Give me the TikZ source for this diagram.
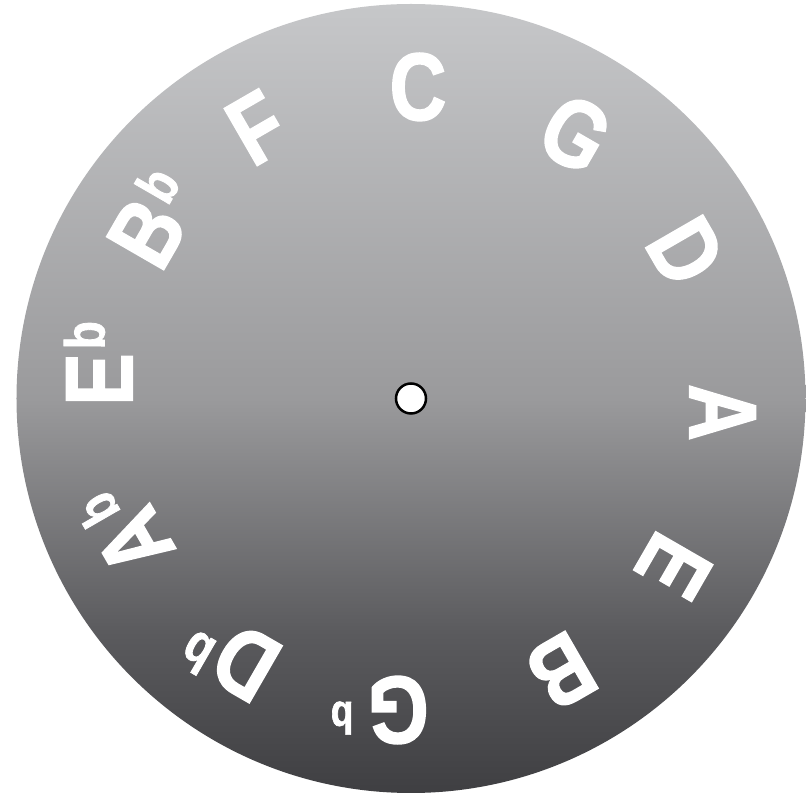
\documentclass[tikz,border=0pt]{standalone}
\usepackage{fontspec}
\newfontfamily\notefont[FakeStretch=0.82,FakeBold=1.5]{Liberation Sans Bold}
\definecolor{gA}{HTML}{3F3F42}
\definecolor{gB}{HTML}{5A5A5D}
\definecolor{gC}{HTML}{9A9A9C}
\definecolor{gD}{HTML}{C6C7C9}
\pgfdeclareverticalshading{diskshade}{100bp}{color(0bp)=(gA); color(25bp)=(gA); color(35bp)=(gB); color(50bp)=(gC); color(75bp)=(gD); color(100bp)=(gD)}
\newcommand\flt[3]{\rlap{\kern#3pt\raisebox{#2pt}{\fontsize{#1}{#1}\selectfont b}}}
\newcommand\notelabel[5]{%
  \begin{scope}[rotate=-30*#1]
    \node[note, anchor=base] (#2) at (#5, 278.5) {#3#4};
  \end{scope}}
\begin{document}
\begin{tikzpicture}[x=1pt,y=1pt,
  note/.style={font=\notefont\fontsize{96}{96}\selectfont, text=white, inner sep=0pt, transform shape}]
\useasboundingbox (-411,-398.5) rectangle (396,398.5);
\shade[shading=diskshade] (0,0) circle (394.5);
\node[circle, draw=black, fill=white, line width=2.5pt, minimum size=30pt, inner sep=0pt] (hub) at (0,0) {};
\notelabel{0}{nC}{C}{}{7}
\notelabel{1}{nG}{G}{}{10}
\notelabel{2}{nD}{D}{}{10}
\notelabel{3}{nA}{A}{}{14}
\notelabel{4}{nE}{E}{}{14}
\notelabel{5}{nB}{B}{}{6}
\notelabel{6}{nGb}{G}{\flt{45}{25}{14}}{13}
\notelabel{7}{nDb}{D}{\flt{55}{29}{5}}{11}
\notelabel{8}{nAb}{A}{\flt{55}{29}{4}}{14}
\notelabel{9}{nEb}{E}{\flt{56}{28}{4}}{19}
\notelabel{10}{nBb}{B}{\flt{56}{28}{5}}{11}
\notelabel{11}{nF}{F}{}{2}
\end{tikzpicture}
\end{document}
